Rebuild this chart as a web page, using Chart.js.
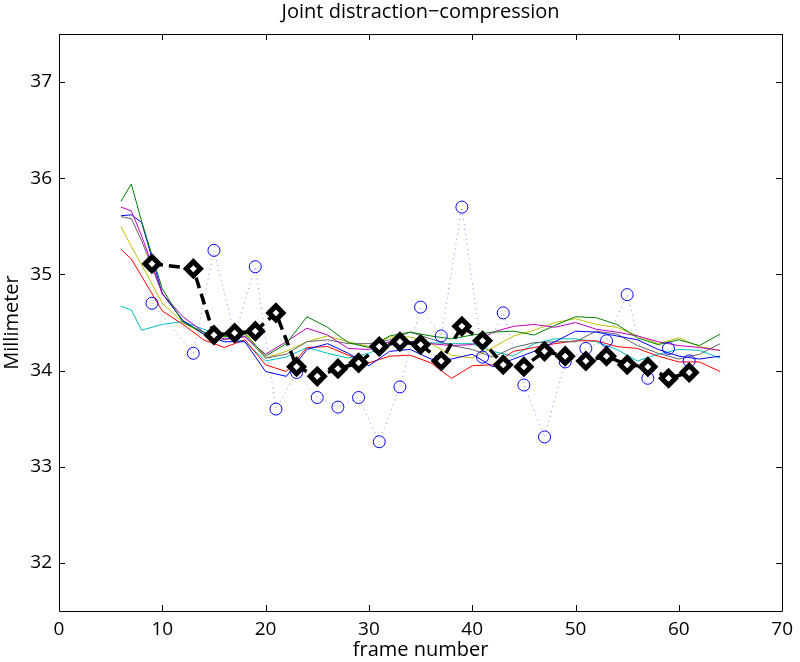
<!DOCTYPE html>
<html>
<head>
<meta charset="utf-8">
<script src="https://cdn.jsdelivr.net/npm/chart.js@4.4.0/dist/chart.umd.min.js"></script>
<style>
    html, body { margin: 0; padding: 0; background: #fff; }
</style>
</head>
<body>
<canvas id="chart" width="800" height="662"></canvas>
<script>
'use strict'
// frames where the seven tracked curves were sampled
const frames = [6, 7, 8, 10, 12, 14, 16, 18, 20, 22, 24, 26, 28, 30, 32, 34, 36, 38, 40, 42, 44, 46, 48, 50, 52, 54, 56, 58, 60, 62, 64];

const greenLine   = [35.76, 35.94, 35.55, 34.85, 34.50, 34.40, 34.35, 34.38, 34.15, 34.28, 34.56, 34.45, 34.29, 34.24, 34.36, 34.40, 34.36, 34.33, 34.37, 34.40, 34.41, 34.37, 34.47, 34.56, 34.55, 34.48, 34.34, 34.27, 34.32, 34.26, 34.38];
const magentaLine = [35.70, 35.66, 35.40, 34.80, 34.56, 34.40, 34.33, 34.35, 34.17, 34.30, 34.44, 34.37, 34.23, 34.22, 34.30, 34.30, 34.28, 34.26, 34.27, 34.40, 34.46, 34.48, 34.45, 34.50, 34.43, 34.40, 34.36, 34.30, 34.26, 34.24, 34.21];
const blueLine    = [35.61, 35.62, 35.54, 34.80, 34.52, 34.38, 34.30, 34.30, 33.99, 33.94, 34.22, 34.28, 34.18, 34.05, 34.20, 34.22, 34.12, 34.12, 34.17, 34.04, 34.12, 34.20, 34.30, 34.41, 34.40, 34.36, 34.32, 34.22, 34.15, 34.12, 34.15];
const grayLine    = [35.60, 35.58, 35.35, 34.80, 34.52, 34.38, 34.32, 34.36, 34.13, 34.17, 34.30, 34.32, 34.28, 34.28, 34.32, 34.40, 34.33, 34.26, 34.22, 34.14, 34.24, 34.29, 34.30, 34.30, 34.41, 34.38, 34.26, 34.18, 34.12, 34.17, 34.28];
const yellowLine  = [35.50, 35.29, 35.10, 34.70, 34.50, 34.38, 34.35, 34.40, 34.13, 34.20, 34.30, 34.36, 34.30, 34.25, 34.35, 34.35, 34.28, 34.16, 34.13, 34.24, 34.36, 34.42, 34.50, 34.54, 34.48, 34.45, 34.36, 34.28, 34.34, 34.25, 34.21];
const redLine     = [35.26, 35.16, 34.98, 34.62, 34.48, 34.32, 34.24, 34.32, 34.06, 33.99, 34.24, 34.25, 34.16, 34.08, 34.15, 34.16, 34.08, 33.92, 34.05, 34.06, 34.20, 34.24, 34.28, 34.31, 34.31, 34.25, 34.23, 34.15, 34.09, 34.09, 33.99];
const cyanLine    = [34.67, 34.63, 34.42, 34.48, 34.51, 34.43, 34.36, 34.30, 34.10, 34.14, 34.24, 34.18, 34.13, 34.18, 34.28, 34.30, 34.29, 34.28, 34.28, 34.20, 34.15, 34.28, 34.33, 34.33, 34.30, 34.22, 34.10, 34.17, 34.22, 34.21, 34.13];

// frames of the summary (diamonds) and raw (circles) series
const markFrames = [9, 13, 15, 17, 19, 21, 23, 25, 27, 29, 31, 33, 35, 37, 39, 41, 43, 45, 47, 49, 51, 53, 55, 57, 59, 61];
const diamondValues = [35.11, 35.06, 34.37, 34.39, 34.41, 34.60, 34.04, 33.94, 34.02, 34.08, 34.25, 34.30, 34.27, 34.10, 34.46, 34.31, 34.06, 34.04, 34.20, 34.15, 34.10, 34.15, 34.06, 34.04, 33.92, 33.98];
const circleValues  = [34.70, 34.18, 35.25, 34.37, 35.08, 33.60, 33.98, 33.72, 33.62, 33.72, 33.26, 33.83, 34.66, 34.36, 35.70, 34.14, 34.60, 33.85, 33.31, 34.09, 34.23, 34.31, 34.79, 33.92, 34.23, 34.10];

const xTicks = [0, 10, 20, 30, 40, 50, 60, 70];
const yTicks = [32, 33, 34, 35, 36, 37];

const toPoints = (xs, ys) => xs.map((x, i) => ({x: x, y: ys[i]}));

const curve = (values, color) => ({
    data: toPoints(frames, values),
    borderColor: color,
    borderWidth: 1,
    pointRadius: 0,
    tension: 0,
    fill: false
});

// MATLAB style box with inward ticks on all four sides
const frameBox = {
    id: 'frameBox',
    afterDraw(chart) {
        const ctx = chart.ctx;
        const a = chart.chartArea;
        const xs = chart.scales.x, ys = chart.scales.y;
        const len = 6;
        ctx.save();
        ctx.strokeStyle = '#000';
        ctx.lineWidth = 1;
        ctx.beginPath();
        ctx.rect(Math.round(a.left) + 0.5, Math.round(a.top) + 0.5, Math.round(a.right - a.left), Math.round(a.bottom - a.top));
        for (let v of xTicks) {
            let px = Math.round(xs.getPixelForValue(v)) + 0.5;
            ctx.moveTo(px, a.bottom); ctx.lineTo(px, a.bottom - len);
            ctx.moveTo(px, a.top); ctx.lineTo(px, a.top + len);
        }
        for (let v of yTicks) {
            let py = Math.round(ys.getPixelForValue(v)) + 0.5;
            ctx.moveTo(a.left, py); ctx.lineTo(a.left + len, py);
            ctx.moveTo(a.right, py); ctx.lineTo(a.right - len, py);
        }
        ctx.stroke();
        ctx.restore();
    }
};

Chart.defaults.font.family = "'Open Sans', sans-serif";
Chart.defaults.color = '#000';

new Chart(document.getElementById('chart').getContext('2d'), {
    type: 'line',
    data: {
        datasets: [
            {
                data: toPoints(markFrames, diamondValues),
                borderColor: '#000',
                borderWidth: 3.5,
                borderDash: [11, 6],
                pointStyle: 'rectRot',
                pointRadius: 7,
                pointBorderWidth: 5,
                pointBackgroundColor: '#fff',
                pointBorderColor: '#000',
                tension: 0,
                fill: false
            },
            {
                data: toPoints(markFrames, circleValues),
                borderColor: 'rgba(60, 60, 255, 0.6)',
                borderWidth: 1,
                borderDash: [1, 4],
                pointStyle: 'circle',
                pointRadius: 6,
                pointBorderWidth: 1,
                pointBackgroundColor: 'rgba(0,0,0,0)',
                pointBorderColor: '#0000ff',
                tension: 0,
                fill: false
            },
            curve(greenLine, 'rgb(0, 128, 0)'),
            curve(magentaLine, 'rgb(191, 0, 191)'),
            curve(blueLine, 'rgb(0, 0, 255)'),
            curve(grayLine, 'rgb(100, 100, 100)'),
            curve(yellowLine, 'rgb(191, 191, 0)'),
            curve(redLine, 'rgb(255, 0, 0)'),
            curve(cyanLine, 'rgb(0, 191, 191)')
        ]
    },
    options: {
        responsive: false,
        animation: false,
        layout: {padding: {left: 0, right: 11, top: 0, bottom: 0}},
        plugins: {
            legend: {display: false},
            tooltip: {enabled: false},
            title: {
                display: true,
                text: 'Joint distraction\u2212compression',
                fullSize: false,
                font: {size: 20, weight: 'normal'},
                padding: {top: 0, bottom: 10}
            }
        },
        scales: {
            x: {
                type: 'linear',
                min: 0,
                max: 70,
                afterBuildTicks: (s) => { s.ticks = xTicks.map(v => ({value: v})); },
                afterFit: (s) => { s.height = 51; },
                grid: {display: false, drawTicks: false},
                border: {display: false},
                ticks: {font: {size: 19}, padding: 7, maxRotation: 0},
                title: {display: true, text: 'frame number', font: {size: 20}, padding: 0}
            },
            y: {
                type: 'linear',
                min: 31.5,
                max: 37.5,
                afterBuildTicks: (s) => { s.ticks = yTicks.map(v => ({value: v})); },
                afterFit: (s) => { s.width = 59; },
                grid: {display: false, drawTicks: false},
                border: {display: false},
                ticks: {font: {size: 19}, padding: 7},
                title: {display: true, text: 'Millimeter', font: {size: 20}, padding: 0}
            }
        }
    },
    plugins: [frameBox]
});
</script>
</body>
</html>
